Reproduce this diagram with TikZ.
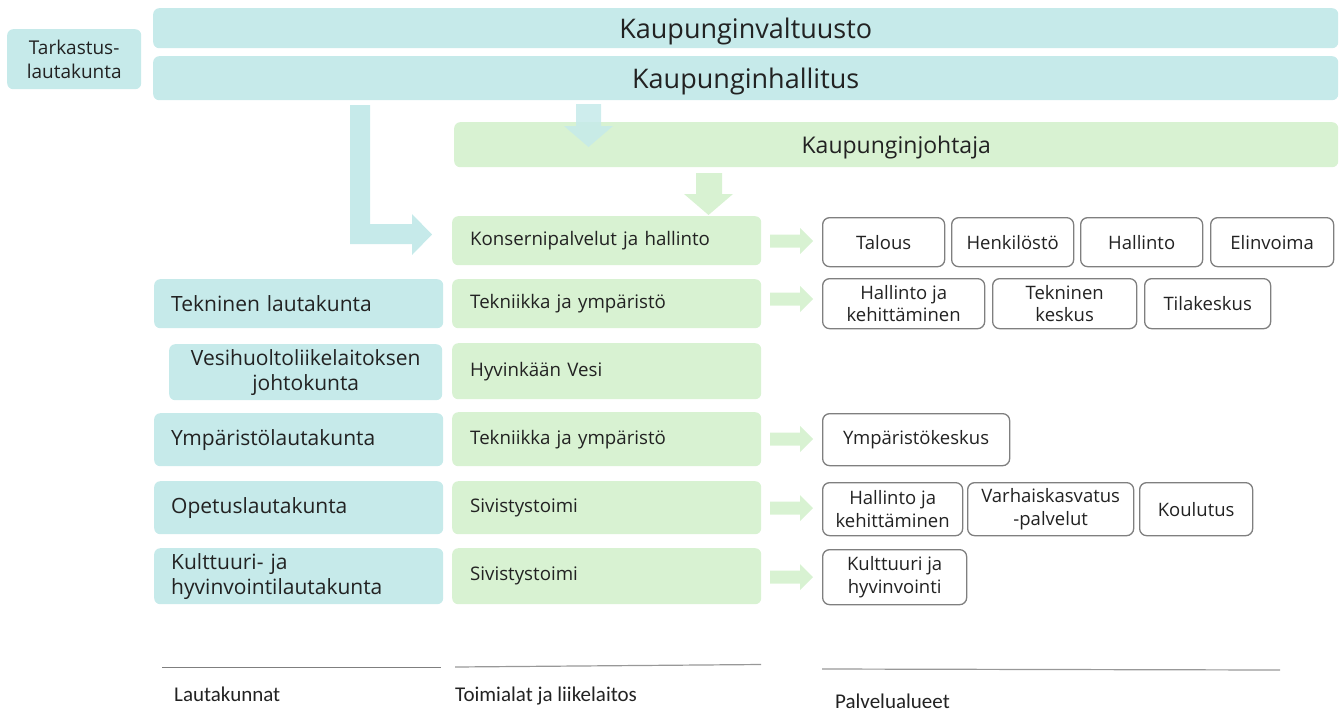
\documentclass[tikz,border=0pt]{standalone}
\usepackage{fontspec}
\setmainfont{Open Sans}
\newfontfamily\captionfont{Carlito}
\definecolor{cyanbox}{HTML}{C6EAEA}
\definecolor{greenbox}{HTML}{D8F2D2}
\definecolor{greyline}{HTML}{7F7F7F}
\definecolor{textgrey}{HTML}{222222}

\begin{document}
\begin{tikzpicture}[x=1pt,y=-1pt,
  council/.style={fill=cyanbox,rounded corners=6pt,anchor=north west,inner sep=0pt,text=textgrey,minimum width=1185pt},
  board/.style={fill=cyanbox,rounded corners=6pt,anchor=north west,inner xsep=17pt,inner ysep=0pt,text width=255pt,align=left,font=\fontsize{21}{25}\selectfont,text=textgrey},
  branch/.style={fill=greenbox,rounded corners=6pt,anchor=north west,inner xsep=18pt,inner ysep=0pt,text width=273pt,align=left,font=\fontsize{18.7}{22}\selectfont,text=textgrey},
  unit/.style={draw=greyline,line width=1.3pt,fill=white,rounded corners=7pt,anchor=north west,inner sep=0pt,align=center,font=\fontsize{18.5}{22.5}\selectfont,text=textgrey},
  caption/.style={anchor=base west,inner sep=0pt,font=\captionfont\fontsize{21}{24}\selectfont,text=textgrey}]
\useasboundingbox (0,0) rectangle (1341,713);

% ylin taso
\node[council,minimum height=60pt,minimum width=134pt,align=center,font=\fontsize{19}{23.5}\selectfont] (tark) at (7,29) {Tarkastus-\\lautakunta};
\node[council,minimum height=40pt,text depth=0pt,font=\fontsize{27}{30}\selectfont] (valt) at (153,8) {Kaupunginvaltuusto};
\node[council,minimum height=44pt,text depth=0pt,font=\fontsize{27}{30}\selectfont] (hall) at (153,56) {Kaupunginhallitus};
\node[fill=greenbox,rounded corners=6pt,anchor=north west,inner sep=0pt,minimum width=884pt,minimum height=45pt,text depth=0pt,text=textgrey,font=\fontsize{23}{26}\selectfont] (johtaja) at (454,122) {Kaupunginjohtaja};

% nuolet
\fill[cyanbox,opacity=.85] (576,104) -- (601,104) -- (601,126) -- (613,126) -- (588.5,147) -- (564,126) -- (576,126) -- cycle;
\fill[greenbox] (696,173) -- (722,173) -- (722,194) -- (733,194) -- (708.5,215) -- (684,194) -- (696,194) -- cycle;
\fill[cyanbox] (350,105) -- (370,105) -- (370,224) -- (412,224) -- (412,214) -- (432,234.5) -- (412,255) -- (412,244) -- (350,244) -- cycle;

% lautakunnat
\node[board,minimum height=49pt] (tekn) at (154,279) {Tekninen lautakunta};
\node[board,minimum height=56pt,text width=243pt,inner xsep=15pt,align=center] (vesi) at (169,344) {Vesihuoltoliikelaitoksen\\johtokunta};
\node[board,minimum height=53pt] (ymp) at (154,413) {Ympäristölautakunta};
\node[board,minimum height=53pt] (opetus) at (154,481) {Opetuslautakunta};
\node[board,minimum height=56pt] (kult) at (154,548) {Kulttuuri- ja\\hyvinvointilautakunta};

% toimialat
\node[branch,minimum height=49pt] (konserni) at (452,216) {Konsernipalvelut ja hallinto};
\node[branch,minimum height=49pt] (tekym) at (452,279) {Tekniikka ja ympäristö};
\node[branch,minimum height=56pt] (hvesi) at (452,343) {Hyvinkään Vesi};
\node[branch,minimum height=54pt] (tekym2) at (452,412) {Tekniikka ja ympäristö};
\node[branch,minimum height=53pt] (sivis) at (452,481) {Sivistystoimi};
\node[branch,minimum height=56pt] (sivis2) at (452,548) {Sivistystoimi};

% palvelualueet
\node[unit,minimum width=122pt,minimum height=49pt] (talous) at (822,217) {Talous};
\node[unit,minimum width=122pt,minimum height=49pt] (henk) at (951,217) {Henkilöstö};
\node[unit,minimum width=122pt,minimum height=49pt] (hallinto) at (1080,217) {Hallinto};
\node[unit,minimum width=123pt,minimum height=49pt] (elin) at (1210,217) {Elinvoima};
\node[unit,minimum width=162pt,minimum height=50pt] (hk1) at (822,278) {Hallinto ja\\kehittäminen};
\node[unit,minimum width=144pt,minimum height=50pt] (tkesk) at (992,278) {Tekninen\\keskus};
\node[unit,minimum width=126pt,minimum height=50pt] (tila) at (1144,278) {Tilakeskus};
\node[unit,minimum width=187pt,minimum height=52pt] (ympk) at (822,413) {Ympäristökeskus};
\node[unit,minimum width=140pt,minimum height=53pt] (hk2) at (822,482) {Hallinto ja\\kehittäminen};
\node[unit,minimum width=166pt,minimum height=53pt] (varh) at (967,482) {Varhaiskasvatus\\-palvelut};
\node[unit,minimum width=113pt,minimum height=53pt] (koul) at (1139,482) {Koulutus};
\node[unit,minimum width=144pt,minimum height=55pt] (khyv) at (822,549) {Kulttuuri ja\\hyvinvointi};

% vihreat nuolet
\foreach \y in {241,299,439,508,577}
  \fill[greenbox] (770,\y-6.5) -- (800,\y-6.5) -- (800,\y-13) -- (813,\y) -- (800,\y+13) -- (800,\y+6.5) -- (770,\y+6.5) -- cycle;

% alaotsikot
\draw[greyline,line width=1pt] (162,667) -- (441,667);
\draw[greyline!80,line width=1.2pt] (455,667) -- (761,664.5);
\draw[greyline!80,line width=1.2pt] (822,669) -- (1280,670);
\node[caption] (c1) at (174,701) {Lautakunnat};
\node[caption] (c2) at (455,701) {Toimialat ja liikelaitos};
\node[caption] (c3) at (835,708) {Palvelualueet};
\end{tikzpicture}
\end{document}
